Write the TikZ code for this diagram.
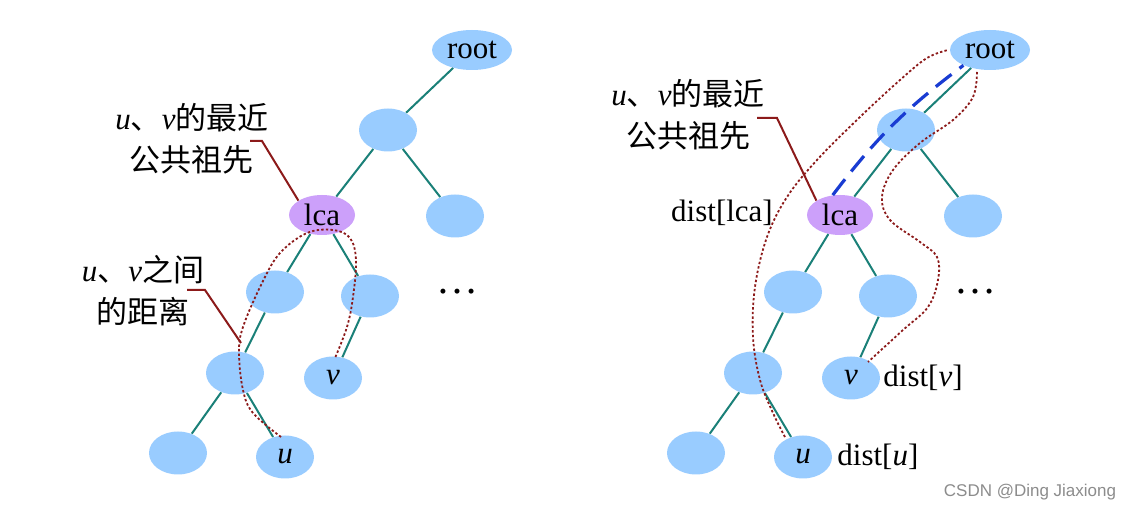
\documentclass[tikz,border=0pt]{standalone}
\usepackage{fontspec}
\setmainfont{Liberation Serif}
\newfontfamily\cjk{Noto Sans CJK SC}
\newfontfamily\wmfont{Liberation Sans}
\usetikzlibrary{shapes.geometric}

\definecolor{nodeblue}{RGB}{153,204,255}
\definecolor{lcapurple}{RGB}{204,160,250}
\definecolor{edgeteal}{RGB}{26,128,120}
\definecolor{pathred}{RGB}{140,26,26}
\definecolor{pathblue}{RGB}{25,60,210}

\tikzset{
	vert/.style={ellipse, fill=nodeblue, minimum width=29pt, minimum height=21.5pt, inner sep=0pt},
	lcavert/.style={vert, fill=lcapurple, minimum width=33pt, minimum height=20pt},
	rootvert/.style={vert, minimum width=40pt, minimum height=20pt},
	edge/.style={draw=edgeteal, line width=1pt},
	pointer/.style={draw=pathred, line width=1pt},
	distpath/.style={draw=pathred, line width=0.9pt, dash pattern=on 1.2pt off 1.1pt},
	rootpath/.style={draw=pathblue, line width=1.6pt, dash pattern=on 10pt off 5pt}
}

\begin{document}
\begin{tikzpicture}[x=0.5pt, y=-0.5pt, font=\fontsize{15.5}{21}\selectfont]
	\useasboundingbox[fill=white] (0,0) rectangle (1137,513);
	% the same tree twice
	\foreach \t/\dx in {L/0,R/518}{
		\begin{scope}[shift={(\dx,0)}]
			\node[rootvert] (\t root) at (472,50) {root};
			\node[vert] (\t n1) at (388,130) {};
			\node[lcavert] (\t lca) at (322,215) {lca};
			\node[vert] (\t n2) at (455,216) {};
			\node[vert] (\t a) at (275,292) {};
			\node[vert] (\t b) at (370,296) {};
			\node (\t dots) at (457,292) {\fontsize{21}{21}\selectfont\dots};
			\node[vert] (\t c) at (235,373) {};
			\node[vert] (\t v) at (333,378) {\textit{v}};
			\node[vert] (\t d) at (178,453) {};
			\node[vert] (\t u) at (285,457) {\textit{u}};
			%
			\draw[edge] (\t root) -- (\t n1);
			\draw[edge] (\t n1) -- (\t lca);
			\draw[edge] (\t n1) -- (\t n2);
			\draw[edge] (\t lca) -- (\t a);
			\draw[edge] (\t lca) -- (\t b);
			\draw[edge] (\t a) -- (\t c);
			\draw[edge] (\t b) -- (\t v);
			\draw[edge] (\t c) -- (\t d);
			\draw[edge] (\t c) -- (\t u);
		\end{scope}
	}
	% left: distance between u and v
	\node[align=center] (Llcatext) at (192,139) {\textit{u}{\cjk 、}\textit{v}{\cjk 的最近}\\{\cjk 公共祖先}};
	\coordinate (Lp1) at (250,141);
	\coordinate (Lp2) at (262,141);
	\draw[pointer] (Lp1) -- (Lp2) -- (Llca.north west);
	\node[align=center] (Ldisttext) at (143,291) {\textit{u}{\cjk 、}\textit{v}{\cjk 之间}\\{\cjk 的距离}};
	\coordinate (Lq1) at (187,290);
	\coordinate (Lq2) at (205,290);
	\coordinate (Lq3) at (241,343);
	\draw[pointer] (Lq1) -- (Lq2) -- (Lq3);
	\draw[distpath] plot[smooth, tension=0.6] coordinates {(281,437) (253,413) (243,390) (239,353) (243,327) (262,283) (280,253) (307,233) (333,230) (350,238) (356,260) (353,297) (347,327) (335,358)};
	% right: dist[] from the root
	\node[align=center] (Rlcatext) at (688,115) {\textit{u}{\cjk 、}\textit{v}{\cjk 的最近}\\{\cjk 公共祖先}};
	\coordinate (Rp1) at (757,118);
	\coordinate (Rp2) at (777,118);
	\draw[pointer] (Rp1) -- (Rp2) -- (Rlca.north west);
	\node (distlca) at (722,213) {dist[lca]};
	\node[anchor=west, inner sep=0pt] (distv) at (883,378) {dist[\textit{v}]};
	\node[anchor=west, inner sep=0pt] (distu) at (837,457) {dist[\textit{u}]};
	\draw[rootpath] (Rlca.110) to[bend left=8] (Rroot.210);
	\draw[distpath] plot[smooth, tension=0.6] coordinates {(785,437) (773,413) (760,380) (753,337) (755,287) (767,237) (787,197) (817,160) (860,117) (900,80) (927,58) (948,50)};
	\draw[distpath] plot[smooth, tension=0.6] coordinates {(977,72) (973,97) (953,120) (920,143) (893,170) (882,197) (890,220) (920,242) (937,257) (938,280) (928,307) (903,330) (868,362)};
	% watermark
	\node[text=black!45, font=\wmfont\fontsize{8.5}{10}\selectfont] (mark) at (1030,492) {CSDN @Ding Jiaxiong};
\end{tikzpicture}
\end{document}
